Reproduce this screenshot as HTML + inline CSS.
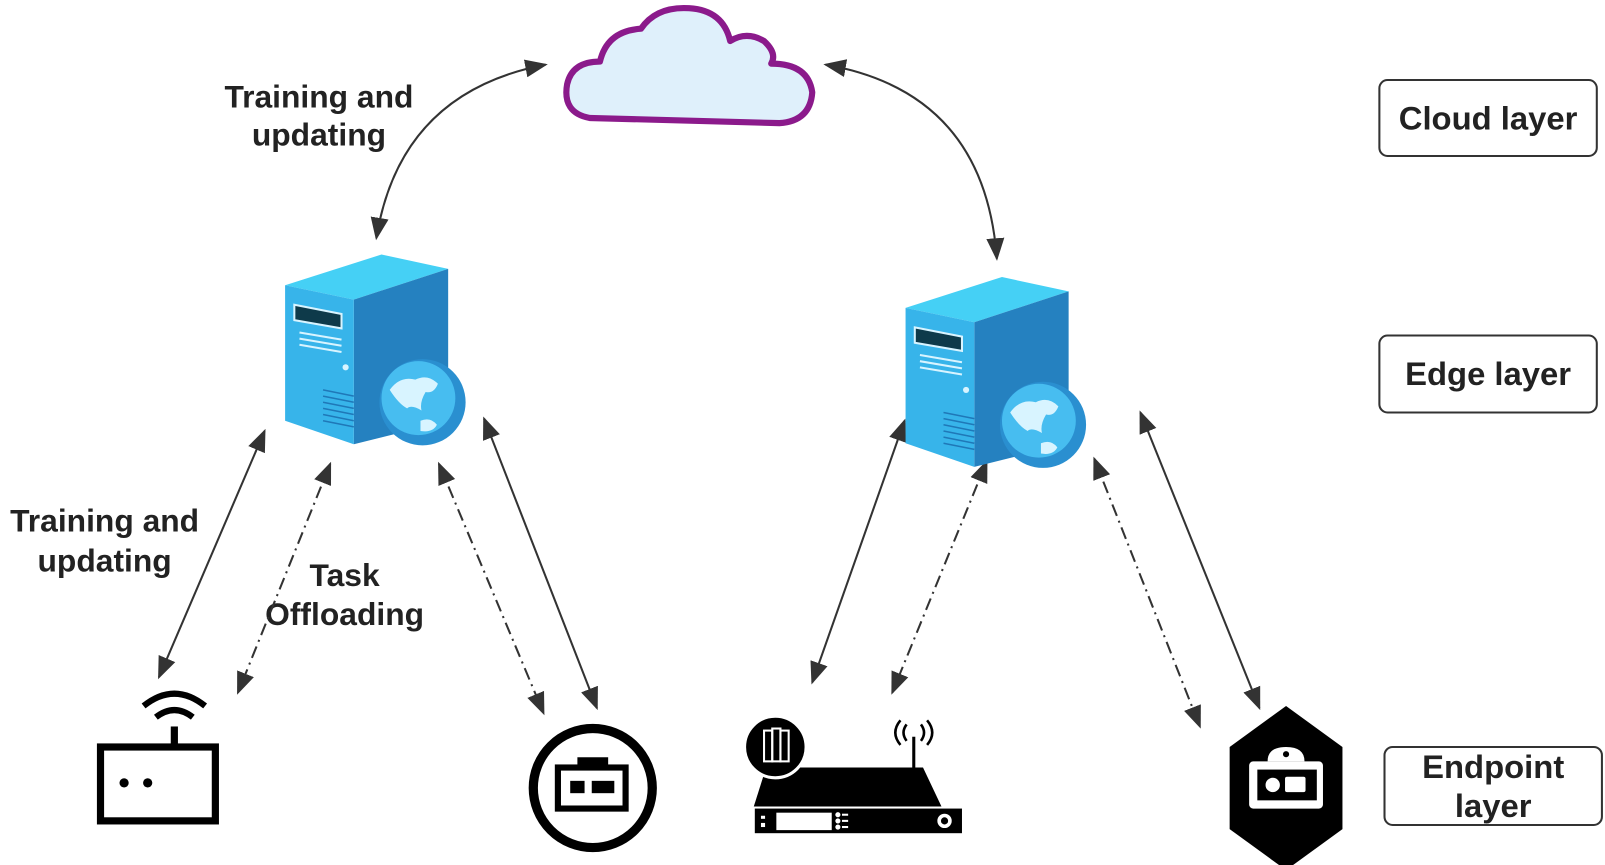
<!DOCTYPE html>
<html><head><meta charset="utf-8"><style>
html,body{margin:0;padding:0;background:#fff;}
svg{display:block;}
text{font-family:"Liberation Sans",sans-serif;font-weight:bold;fill:#222;}
</style></head><body>
<svg width="1605" height="865" viewBox="0 0 1565 843" preserveAspectRatio="none" xmlns="http://www.w3.org/2000/svg">
<defs>
<marker id="b" viewBox="0 0 10 10" refX="9" refY="5" markerWidth="22" markerHeight="22" orient="auto-start-reverse" markerUnits="userSpaceOnUse">
<path d="M0,1 L10,5 L0,9 z" fill="#333"/></marker>
<g id="srv">
<polygon points="278,278 372,248 437,262 345,292" fill="#45d0f5"/>
<polygon points="345,292 437,262 437,410 345,433" fill="#2581c0"/>
<polygon points="278,278 345,292 345,433 278,410" fill="#37b4ea"/>
<polygon points="287,297 333,306 333,320 287,312" fill="#0e3a4a" stroke="#d8f4ff" stroke-width="2"/>
<g stroke="#d8f4ff" stroke-width="2"><line x1="292" y1="324" x2="333" y2="331"/><line x1="292" y1="330" x2="333" y2="337"/><line x1="292" y1="336" x2="333" y2="343"/></g>
<circle cx="337" cy="358" r="3" fill="#d8f4ff"/>
<g stroke="#1f78b8" stroke-width="1.5"><line x1="315" y1="380" x2="345" y2="386"/><line x1="315" y1="386" x2="345" y2="392"/><line x1="315" y1="392" x2="345" y2="398"/><line x1="315" y1="398" x2="345" y2="404"/><line x1="315" y1="404" x2="345" y2="410"/><line x1="315" y1="410" x2="345" y2="416"/></g>
<circle cx="412" cy="392" r="42" fill="#2a8fd0"/>
<circle cx="408" cy="388" r="36" fill="#47bdf0"/>
<path d="M380,380 q10,-14 25,-10 q12,-6 22,4 q-4,10 -12,8 q-6,10 -4,18 q-10,-6 -14,-2 q-8,-4 -17,-18z M410,410 q10,-4 16,4 q-4,8 -16,6z" fill="#d8f4ff"/>
</g>
</defs>

<path d="M575,115 Q548,110 553,82 Q558,60 585,60 Q592,30 625,28 Q640,6 672,8 Q705,10 712,40 Q728,30 745,40 Q758,52 752,62 Q788,62 792,90 Q790,118 760,120 Z" fill="#dff0fb" stroke="#8b1a8b" stroke-width="6" stroke-linejoin="round"/>

<g fill="#fff" stroke="#333" stroke-width="2">
<rect x="1345" y="78" width="212" height="74" rx="8"/>
<rect x="1345" y="327" width="212" height="75" rx="8"/>
<rect x="1350" y="728" width="212" height="76" rx="8"/>
</g>
<text x="1451" y="126" font-size="32" text-anchor="middle">Cloud layer</text>
<text x="1451" y="375" font-size="32" text-anchor="middle">Edge layer</text>
<text x="1456" y="758" font-size="32" text-anchor="middle">Endpoint</text>
<text x="1456" y="796" font-size="32" text-anchor="middle">layer</text>

<text x="311" y="105" font-size="31" text-anchor="middle">Training and</text>
<text x="311" y="142" font-size="31" text-anchor="middle">updating</text>
<text x="102" y="518" font-size="31" text-anchor="middle">Training and</text>
<text x="102" y="557" font-size="31" text-anchor="middle">updating</text>
<text x="336" y="571" font-size="31" text-anchor="middle">Task</text>
<text x="336" y="609" font-size="31" text-anchor="middle">Offloading</text>

<g fill="none" stroke="#333" stroke-width="2">
<path d="M532,63 Q390,90 367,232" marker-start="url(#b)" marker-end="url(#b)"/>
<path d="M805,63 Q960,90 972,252" marker-start="url(#b)" marker-end="url(#b)"/>
<line x1="258" y1="420" x2="155" y2="660" marker-start="url(#b)" marker-end="url(#b)"/>
<line x1="472" y1="408" x2="582" y2="690" marker-start="url(#b)" marker-end="url(#b)"/>
<line x1="882" y1="410" x2="792" y2="665" marker-start="url(#b)" marker-end="url(#b)"/>
<line x1="1112" y1="402" x2="1228" y2="690" marker-start="url(#b)" marker-end="url(#b)"/>
<g stroke-dasharray="12,5,2,5">
<line x1="322" y1="452" x2="232" y2="675" marker-start="url(#b)" marker-end="url(#b)"/>
<line x1="428" y1="452" x2="530" y2="695" marker-start="url(#b)" marker-end="url(#b)"/>
<line x1="962" y1="450" x2="870" y2="675" marker-start="url(#b)" marker-end="url(#b)"/>
<line x1="1067" y1="447" x2="1170" y2="708" marker-start="url(#b)" marker-end="url(#b)"/>
</g>
</g>

<use href="#srv"/>
<use href="#srv" transform="translate(605,22)"/>

<rect x="98" y="728" width="112" height="72" fill="#fff" stroke="#000" stroke-width="7"/>
<circle cx="121" cy="763" r="4.5" fill="#000"/><circle cx="144" cy="763" r="4.5" fill="#000"/>
<line x1="170" y1="728" x2="170" y2="708" stroke="#000" stroke-width="7"/>
<path d="M152,699 q18,-14 36,0" fill="none" stroke="#000" stroke-width="6"/>
<path d="M140,688 q30,-24 60,0" fill="none" stroke="#000" stroke-width="6"/>

<circle cx="578" cy="768" r="58" fill="#fff" stroke="#000" stroke-width="9"/>
<rect x="544" y="748" width="66" height="40" fill="#fff" stroke="#000" stroke-width="6"/>
<rect x="563" y="738" width="30" height="12" fill="#000"/>
<rect x="556" y="761" width="14" height="12" fill="#000"/>
<rect x="577" y="761" width="22" height="12" fill="#000"/>

<!-- DVR -->
<polygon points="747,748 900,748 918,786 735,786" fill="#000"/>
<rect x="736" y="788" width="202" height="24" fill="#000"/>
<rect x="757" y="792" width="54" height="17" fill="#fff"/>
<rect x="742" y="795" width="4" height="3" fill="#fff"/>
<rect x="742" y="802" width="4" height="4" fill="#fff"/>
<g fill="#fff"><circle cx="817" cy="794" r="2.5"/><circle cx="817" cy="800" r="2.5"/><circle cx="817" cy="806" r="2.5"/>
<rect x="821" y="793" width="6" height="2"/><rect x="821" y="799" width="6" height="2"/><rect x="821" y="805" width="6" height="2"/></g>
<circle cx="921" cy="800" r="7" fill="#fff"/><circle cx="921" cy="800" r="3.5" fill="#000"/>
<line x1="891" y1="748" x2="891" y2="718" stroke="#000" stroke-width="3"/>
<path d="M884,706 q-6,8 0,16 M898,706 q6,8 0,16 M878,702 q-10,12 0,24 M904,702 q10,12 0,24" fill="none" stroke="#000" stroke-width="2.5"/>
<circle cx="756" cy="728" r="30" fill="#000" stroke="#fff" stroke-width="3"/>
<g fill="none" stroke="#fff" stroke-width="2"><rect x="745" y="712" width="8" height="30"/><rect x="753" y="710" width="8" height="32"/><rect x="761" y="712" width="8" height="30"/></g>

<polygon points="1254,688 1309,728 1309,808 1254,848 1199,808 1199,728" fill="#000"/>
<rect x="1218" y="742" width="72" height="46" rx="4" fill="#fff"/>
<rect x="1226" y="750" width="58" height="30" fill="#000"/>
<circle cx="1241" cy="765" r="7" fill="#fff"/>
<rect x="1253" y="757" width="20" height="15" rx="2" fill="#fff"/>
<path d="M1236,742 q0,-14 18,-14 q18,0 18,14z" fill="#fff"/>
<circle cx="1254" cy="735" r="3" fill="#000"/>
</svg>
</body></html>
